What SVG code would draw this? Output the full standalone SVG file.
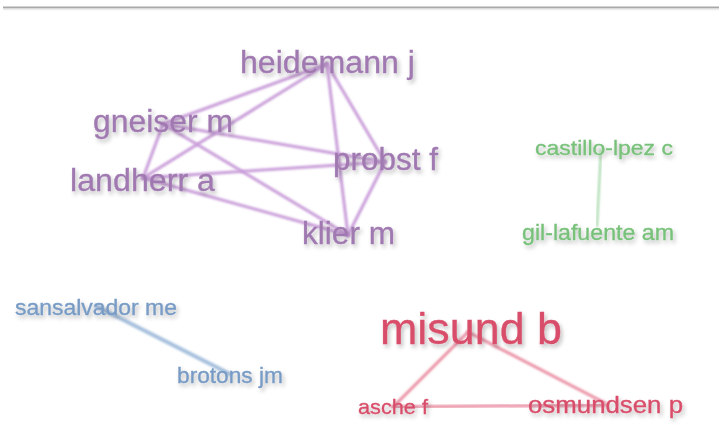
<svg xmlns="http://www.w3.org/2000/svg" width="719" height="435" viewBox="0 0 719 435">
<defs>
<filter id="sh" x="-20%" y="-60%" width="140%" height="220%">
<feGaussianBlur in="SourceAlpha" stdDeviation="2.2"/>
<feOffset dx="2" dy="3" result="b"/>
<feFlood flood-color="#000" flood-opacity="0.25"/>
<feComposite in2="b" operator="in" result="s"/>
<feGaussianBlur in="SourceGraphic" stdDeviation="0.75" result="t"/>
<feMerge><feMergeNode in="s"/><feMergeNode in="t"/></feMerge>
</filter>
<filter id="lb" x="-10%" y="-10%" width="120%" height="120%">
<feGaussianBlur stdDeviation="0.8"/>
</filter>
</defs>
<style>
text{font-family:"Liberation Sans",Arial,sans-serif;text-anchor:middle;filter:url(#sh);stroke-width:0.35}
.pu{fill:#a079b1;stroke:#a079b1}
.gr{fill:#78c17a;stroke:#78c17a}
.bl{fill:#789bc5;stroke:#789bc5}
.rd{fill:#d84e6a;stroke:#d84e6a}
#links line{stroke-linecap:round;fill:none;filter:url(#lb)}
.lpu{stroke:#c99dd9;stroke-width:3}
.lgr{stroke:#a3d6a5;stroke-width:2}
.lbl{stroke:#a5bfdd;stroke-width:4}
.lrd{stroke:#ea8fa3;stroke-width:3}
</style>
<rect width="719" height="435" fill="#fff"/>
<line x1="3" y1="7.5" x2="719" y2="7.5" stroke="#a9a9a9" stroke-width="1.8"/>
<line x1="3" y1="9.5" x2="719" y2="9.5" stroke="#ececec" stroke-width="1.5"/>
<g id="links">
<line class="lpu" x1="327" y1="64" x2="163" y2="124"/>
<line class="lpu" x1="327" y1="64" x2="143" y2="178"/>
<line class="lpu" x1="327" y1="64" x2="385" y2="162"/>
<line class="lpu" x1="327" y1="64" x2="348" y2="235"/>
<line class="lpu" x1="163" y1="124" x2="143" y2="178"/>
<line class="lpu" x1="163" y1="124" x2="385" y2="162"/>
<line class="lpu" x1="163" y1="124" x2="348" y2="235"/>
<line class="lpu" x1="143" y1="178" x2="385" y2="162"/>
<line class="lpu" x1="143" y1="178" x2="348" y2="235"/>
<line class="lpu" x1="385" y1="162" x2="348" y2="235"/>
<line class="lgr" x1="601" y1="150" x2="597" y2="226"/>
<line class="lbl" x1="96" y1="306" x2="230" y2="374"/>
<line class="lrd" x1="468" y1="332" x2="393" y2="407"/>
<line class="lrd" x1="468" y1="332" x2="605" y2="403"/>
<line class="lrd" x1="393" y1="407" x2="605" y2="405"/>
</g>
<g id="heidemann"><text class="pu" x="327.5" y="73" font-size="31" textLength="175" lengthAdjust="spacingAndGlyphs">heidemann j</text></g>
<g id="gneiser"><text class="pu" x="163" y="132" font-size="31" textLength="140" lengthAdjust="spacingAndGlyphs">gneiser m</text></g>
<g id="landherr"><text class="pu" x="142.5" y="191" font-size="31" textLength="145" lengthAdjust="spacingAndGlyphs">landherr a</text></g>
<g id="probst"><text class="pu" x="385.5" y="170" font-size="31" textLength="105" lengthAdjust="spacingAndGlyphs">probst f</text></g>
<g id="klier"><text class="pu" x="348.5" y="244" font-size="31" textLength="93" lengthAdjust="spacingAndGlyphs">klier m</text></g>
<g id="castillo"><text class="gr" x="604" y="155" font-size="21" textLength="138" lengthAdjust="spacingAndGlyphs">castillo-lpez c</text></g>
<g id="gil"><text class="gr" x="598" y="240" font-size="22" textLength="152" lengthAdjust="spacingAndGlyphs">gil-lafuente am</text></g>
<g id="sansalvador"><text class="bl" x="96" y="315" font-size="22" textLength="162" lengthAdjust="spacingAndGlyphs">sansalvador me</text></g>
<g id="brotons"><text class="bl" x="230" y="383" font-size="22" textLength="106" lengthAdjust="spacingAndGlyphs">brotons jm</text></g>
<g id="misund"><text class="rd" x="471" y="344" font-size="44" textLength="182" lengthAdjust="spacingAndGlyphs">misund b</text></g>
<g id="asche"><text class="rd" x="393" y="414" font-size="21" textLength="70" lengthAdjust="spacingAndGlyphs">asche f</text></g>
<g id="osmundsen"><text class="rd" x="605.5" y="413" font-size="24" textLength="155" lengthAdjust="spacingAndGlyphs">osmundsen p</text></g>
</svg>
